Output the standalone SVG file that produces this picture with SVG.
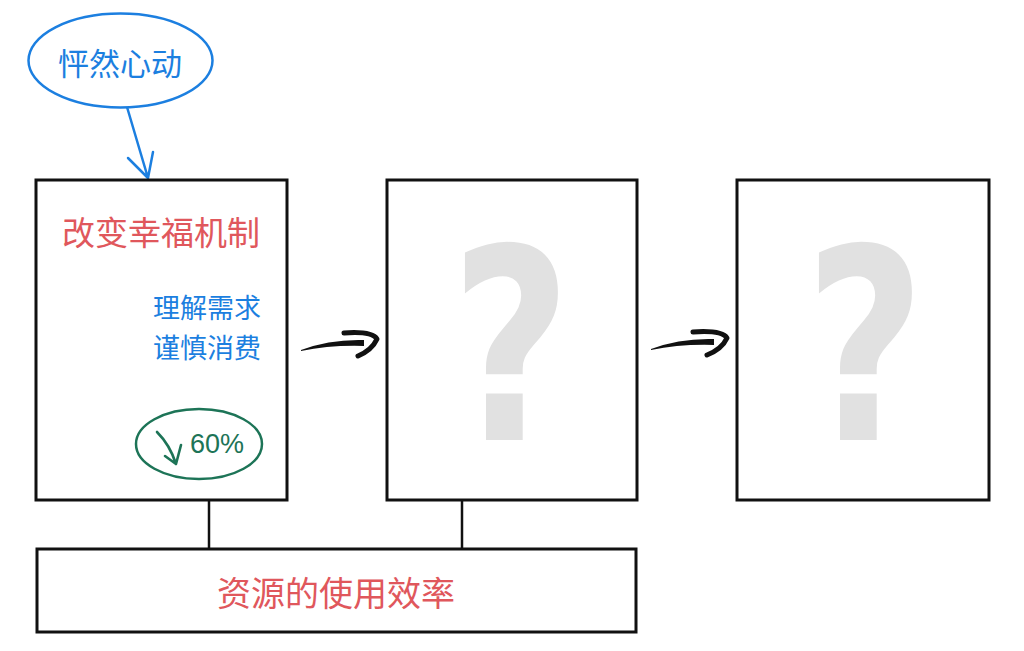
<svg xmlns="http://www.w3.org/2000/svg" width="1024" height="651" viewBox="0 0 1024 651">
<style>
.box{fill:#fff;stroke:#111;stroke-width:3}
.cjk{font-family:"Noto Sans CJK SC","Noto Sans",sans-serif}
.red{fill:#e0575c}
.blue{fill:#1c7fe0}
.q{font-family:"DejaVu Sans",sans-serif;font-weight:bold;fill:#e1e1e1;text-anchor:middle}
.ink{fill:none;stroke:#111;stroke-width:5;stroke-linecap:round;stroke-linejoin:round}
</style>
<rect width="1024" height="651" fill="#fff"/>
<g id="connectors">
  <line x1="209" y1="500" x2="209" y2="549" stroke="#111" stroke-width="2.5"/>
  <line x1="462" y1="500" x2="462" y2="549" stroke="#111" stroke-width="2.5"/>
  <g id="arrow-heart">
    <path d="M127,107 L148,178 M128,158 L148,178 L153,152" fill="none" stroke="#1c7fe0" stroke-width="2.5" stroke-linecap="round" stroke-linejoin="round"/>
  </g>
  <g id="arrow-1-2">
    <path d="M301,350 Q330,339 364,340 L364,346 Q330,345 301,351 Z" fill="#111"/>
    <path class="ink" d="M344,333 Q372,331 377,339 Q372,350 358,356"/>
  </g>
  <g id="arrow-2-3">
    <path d="M651,349 Q680,338 714,339 L714,345 Q680,344 651,350 Z" fill="#111"/>
    <path class="ink" d="M693,332 Q722,330 727,338 Q722,349 707,355"/>
  </g>
</g>
<g id="node-heart">
  <ellipse cx="120.5" cy="60.5" rx="92" ry="47" fill="#fff" stroke="#1c7fe0" stroke-width="2.5"/>
  <text class="cjk blue" x="120" y="61" font-size="31" text-anchor="middle" dominant-baseline="central">怦然心动</text>
</g>
<g id="node-1">
  <rect class="box" x="36" y="180" width="251" height="320"/>
  <text class="cjk red" x="161" y="231" font-size="33" text-anchor="middle" dominant-baseline="central">改变幸福机制</text>
  <text class="cjk blue" x="261" y="306" font-size="27" text-anchor="end" dominant-baseline="central">理解需求</text>
  <text class="cjk blue" x="261" y="346" font-size="27" text-anchor="end" dominant-baseline="central">谨慎消费</text>
  <g id="badge">
    <ellipse cx="199" cy="444" rx="63" ry="35" fill="none" stroke="#1d7457" stroke-width="2.5"/>
    <path d="M157,432 Q170,445 176,464 M165,456 L176,464 L181,445" fill="none" stroke="#1d7457" stroke-width="2.6" stroke-linecap="round" stroke-linejoin="round"/>
    <text x="190" y="453" font-size="27" font-family="Liberation Sans, Arial, sans-serif" fill="#1d7457">60%</text>
  </g>
</g>
<g id="node-2">
  <rect class="box" x="387" y="180" width="250" height="320"/>
  <text class="q" transform="translate(511,0) scale(0.78,1)" x="0" y="440" font-size="267">?</text>
</g>
<g id="node-3">
  <rect class="box" x="737" y="180" width="252" height="320"/>
  <text class="q" transform="translate(865,0) scale(0.78,1)" x="0" y="440" font-size="267">?</text>
</g>
<g id="node-resource">
  <rect class="box" x="37" y="549" width="599" height="83"/>
  <text class="cjk red" x="336" y="591" font-size="34" text-anchor="middle" dominant-baseline="central">资源的使用效率</text>
</g>
</svg>
